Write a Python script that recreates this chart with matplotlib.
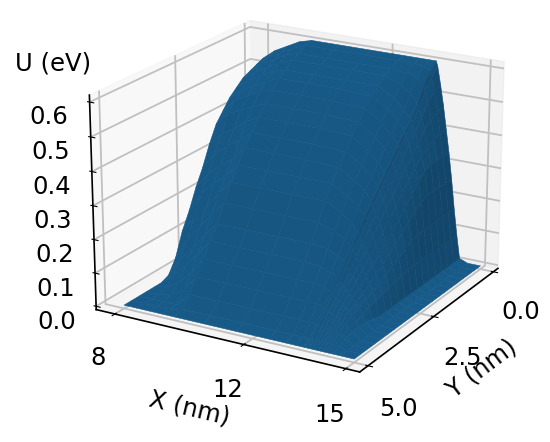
import numpy as np
import matplotlib
matplotlib.use('Agg')
import matplotlib.pyplot as plt

x_nm = [8, 8.4, 8.8, 9.2, 9.6, 10.5, 11.5, 12.5, 13, 13.3, 13.5, 13.55, 13.65, 13.75, 13.85, 13.95, 14.05, 14.15, 14.25, 14.35, 14.6, 15]
y_nm = [0, 0.25, 0.5, 0.75, 1, 1.25, 1.5, 1.75, 2, 2.25, 2.5, 2.75, 3, 3.25, 3.5, 3.75, 4, 4.25, 4.5, 4.75, 5]

# one row per y value
u_ev = [
    [.52, .55, .57, .59, .60, .60, .60, .60, .60, .60, .60, .585, .53, .47, .40, .33, .25, .16, .08, .01, 0, 0],
    [.51, .54, .56, .58, .595, .595, .595, .595, .595, .59, .58, .56, .52, .46, .40, .33, .25, .16, .08, .01, 0, 0],
    [.50, .53, .55, .57, .58, .58, .58, .58, .575, .565, .55, .53, .50, .45, .39, .33, .25, .16, .08, .01, 0, 0],
    [.49, .515, .535, .555, .57, .57, .57, .57, .55, .53, .505, .49, .465, .43, .38, .33, .25, .16, .08, .01, 0, 0],
    [.47, .50, .52, .54, .55, .55, .55, .55, .52, .495, .47, .455, .43, .40, .365, .32, .25, .16, .08, .01, 0, 0],
    [.45, .48, .50, .52, .535, .535, .535, .53, .50, .47, .445, .43, .405, .375, .34, .30, .24, .16, .08, .01, 0, 0],
    [.42, .46, .48, .50, .51, .51, .51, .505, .47, .44, .415, .40, .375, .35, .315, .275, .225, .155, .08, .01, 0, 0],
    [.39, .43, .445, .465, .48, .48, .48, .475, .44, .41, .385, .37, .345, .32, .29, .25, .205, .15, .08, .01, 0, 0],
    [.34, .38, .40, .43, .45, .45, .45, .445, .41, .38, .355, .34, .315, .29, .26, .225, .185, .14, .08, .01, 0, 0],
    [.28, .33, .36, .385, .415, .415, .415, .41, .38, .35, .325, .31, .29, .265, .235, .20, .165, .125, .075, .01, 0, 0],
    [.23, .28, .31, .34, .38, .38, .38, .375, .345, .32, .295, .28, .26, .235, .21, .18, .15, .115, .07, .01, 0, 0],
    [.17, .23, .27, .30, .34, .34, .34, .34, .31, .285, .265, .25, .23, .21, .185, .16, .13, .10, .065, .01, 0, 0],
    [.12, .17, .21, .26, .30, .30, .30, .30, .275, .25, .23, .215, .20, .18, .16, .14, .115, .09, .06, .01, 0, 0],
    [.05, .12, .16, .21, .25, .25, .25, .25, .235, .215, .20, .19, .17, .155, .14, .12, .10, .08, .055, .01, 0, 0],
    [.01, .07, .11, .16, .20, .20, .20, .20, .195, .18, .165, .155, .14, .13, .115, .10, .085, .07, .05, .015, 0, 0],
    [0, .03, .07, .115, .16, .16, .16, .16, .155, .145, .135, .125, .115, .105, .095, .085, .07, .06, .04, .02, 0, 0],
    [0, .01, .03, .07, .12, .12, .12, .12, .12, .115, .105, .10, .09, .085, .075, .07, .06, .05, .035, .02, 0, 0],
    [0, 0, .01, .03, .08, .08, .08, .08, .08, .08, .075, .07, .065, .06, .055, .05, .045, .04, .03, .02, 0, 0],
    [0, 0, 0, 0, .04, .04, .04, .04, .04, .04, .04, .04, .035, .035, .03, .03, .03, .025, .02, .015, 0, 0],
    [0, 0, 0, 0, .01, .01, .01, .01, .01, .01, .01, .01, .01, .01, .01, .01, .01, .01, .01, .005, 0, 0],
    [0, 0, 0, 0, 0, 0, 0, 0, 0, 0, 0, 0, 0, 0, 0, 0, 0, 0, 0, 0, 0, 0],
]

x_ticks = [8, 12, 15]
y_ticks = [0, 2.5, 5]
y_tick_labels = ['0.0', '2.5', '5.0']
z_ticks = [0, 0.1, 0.2, 0.3, 0.4, 0.5, 0.6]

X, Y = np.meshgrid(x_nm, y_nm)
U = np.array(u_ev)

plt.rcParams['font.size'] = 17.5
plt.rcParams['grid.linewidth'] = 1.3
plt.rcParams['grid.color'] = '#c0c0c0'
plt.rcParams['axes.linewidth'] = 1.2

fig = plt.figure(figsize=(5.5, 4.42), dpi=100)
ax = fig.add_axes([0.037, 0.068, 1.0, 1.0], projection='3d')
ax.plot_surface(X, Y, U, rstride=1, cstride=1, color='C0', edgecolors='C0', linewidth=0.4, antialiased=True)

ax.view_init(elev=20, azim=-60)
ax.set_box_aspect(None, zoom=1.05)
ax.set_xlim(7.4, 15.4)
ax.set_ylim(5.3, -0.2)
ax.set_zlim(-0.01, 0.62)

ax.set_xticks(x_ticks)
ax.set_yticks(y_ticks)
ax.set_yticklabels(y_tick_labels)
ax.set_zticks(z_ticks)
ax.zaxis.set_ticks_position('upper')
ax.tick_params(axis='x', pad=9)
ax.tick_params(axis='y', pad=10)
ax.tick_params(axis='z', pad=7.5)

ax.set_xlabel('X (nm)', labelpad=14)
ax.set_ylabel('Y (nm)', labelpad=10)
fig.text(0.097, 0.857, 'U (eV)', ha='center', va='center')

fig.savefig('out.png', dpi=100)
